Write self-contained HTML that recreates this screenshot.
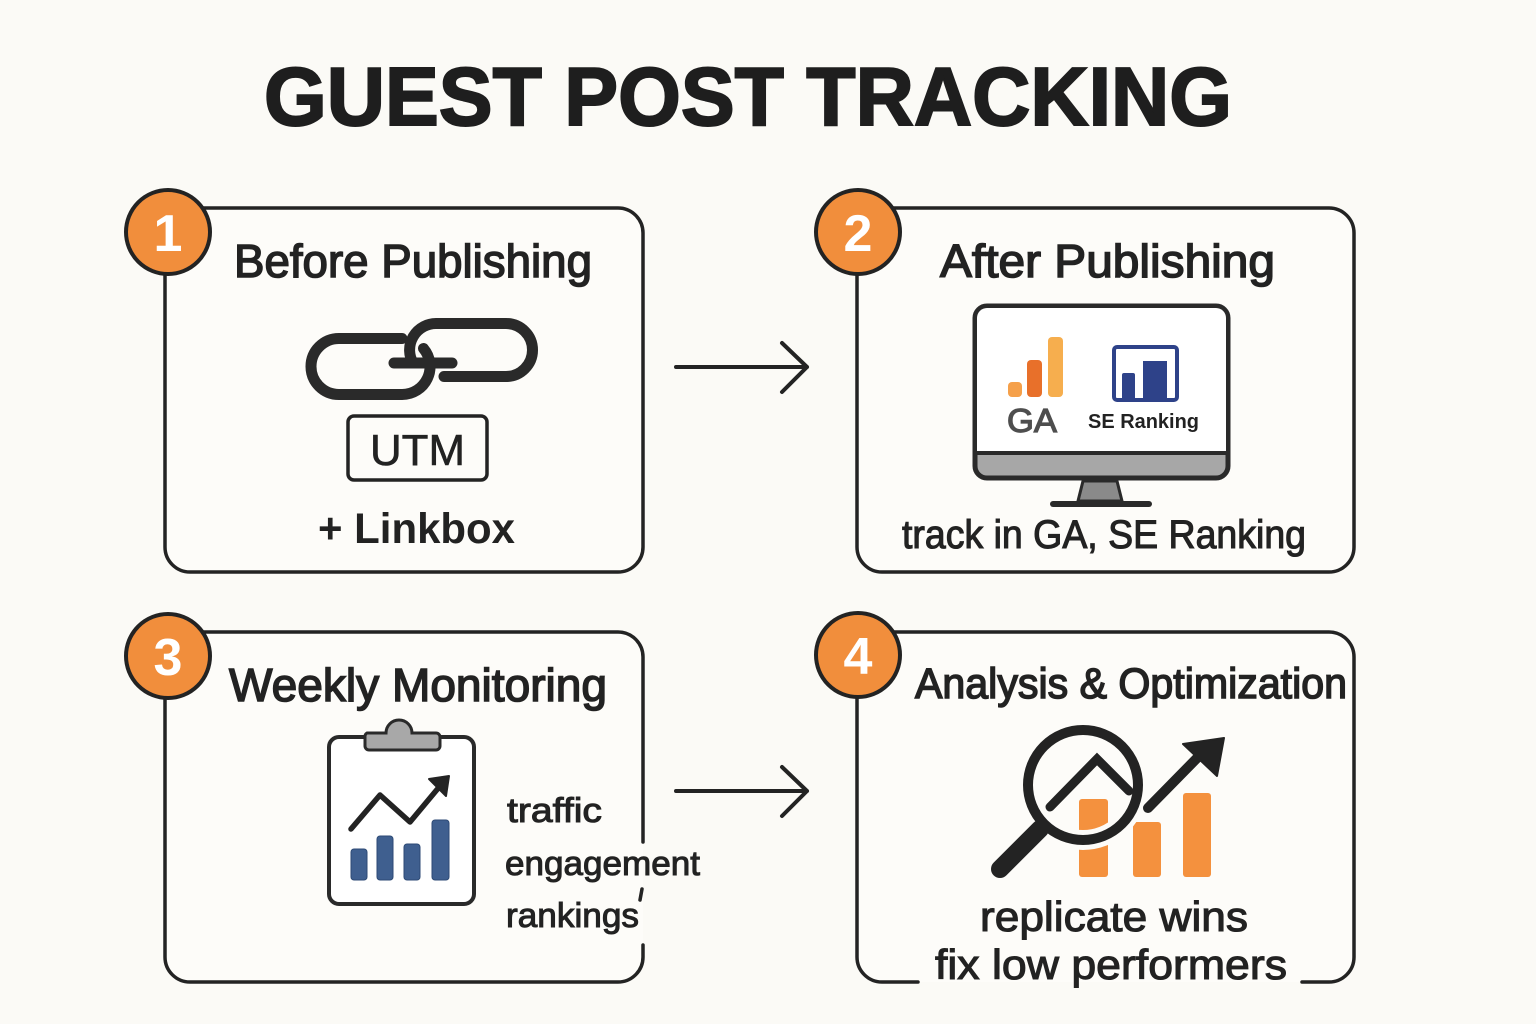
<!DOCTYPE html>
<html><head><meta charset="utf-8"><style>
html,body{margin:0;padding:0;background:#FBFAF6;}
svg{display:block;}
text{font-family:"Liberation Sans",sans-serif;}
</style></head><body>
<svg width="1536" height="1024" viewBox="0 0 1536 1024" xmlns="http://www.w3.org/2000/svg">
<rect width="1536" height="1024" fill="#FBFAF6"/>

<!-- Title -->
<text x="264" y="125" font-size="83" font-weight="bold" fill="#1e1e1e" stroke="#1e1e1e" stroke-width="2" textLength="968" lengthAdjust="spacingAndGlyphs">GUEST POST TRACKING</text>

<!-- Boxes -->
<g fill="#FDFCF9" stroke="#232323" stroke-width="3.5" stroke-linecap="round">
  <rect x="165" y="208" width="478" height="364" rx="25"/>
  <rect x="857" y="208" width="497" height="364" rx="25"/>
  <path d="M643 842 L643 657 A25 25 0 0 0 618 632 L190 632 A25 25 0 0 0 165 657 L165 957 A25 25 0 0 0 190 982 L618 982 A25 25 0 0 0 643 957 L643 945"/>
  <path d="M642 889 L640 900" fill="none"/>
  <path d="M918 982 L882 982 A25 25 0 0 1 857 957 L857 657 A25 25 0 0 1 882 632 L1329 632 A25 25 0 0 1 1354 657 L1354 957 A25 25 0 0 1 1329 982 L1302 982"/>
</g>

<!-- Arrows -->
<g fill="none" stroke="#232323" stroke-width="4" stroke-linecap="round" stroke-linejoin="round">
  <path d="M676 367 L807 367 M782 343 L807 367 L782 392"/>
  <path d="M676 791 L807 791 M782 767 L807 791 L782 816"/>
</g>

<!-- Number circles -->
<g fill="#F18E3C" stroke="#232323" stroke-width="4">
  <circle cx="168" cy="232" r="42"/>
  <circle cx="858" cy="232" r="42"/>
  <circle cx="168" cy="656" r="42"/>
  <circle cx="858" cy="655" r="42"/>
</g>
<g fill="#ffffff" font-size="52" font-weight="bold" text-anchor="middle">
  <text x="168" y="251">1</text>
  <text x="858" y="251">2</text>
  <text x="168" y="675">3</text>
  <text x="858" y="674">4</text>
</g>

<!-- Headings -->
<g fill="#222" stroke="#222" stroke-width="1.5" font-size="46">
  <text x="234" y="277" textLength="358" lengthAdjust="spacingAndGlyphs">Before Publishing</text>
  <text x="940" y="277" textLength="335" lengthAdjust="spacingAndGlyphs">After Publishing</text>
  <text x="229" y="701" textLength="378" lengthAdjust="spacingAndGlyphs">Weekly Monitoring</text>
  <text x="915" y="698" font-size="43" textLength="432" lengthAdjust="spacingAndGlyphs">Analysis &amp; Optimization</text>
</g>

<!-- Box 1 content: chain -->
<g fill="none" stroke="#2a2a2a" stroke-width="11" stroke-linecap="round">
  <path d="M402 338.5 L339 338.5 A28 28 0 0 0 339 394.5 L402 394.5 A28 28 0 0 0 423.5 348.5"/>
  <path d="M444 376.5 L506 376.5 A26.5 26.5 0 0 0 506 323.5 L436 323.5 A26.5 26.5 0 0 0 413 363"/>
  <path d="M394 363 L452 363"/>
</g>
<rect x="348" y="416" width="139" height="64" rx="6" fill="none" stroke="#232323" stroke-width="3.5"/>
<text x="370" y="465" font-size="44" fill="#222" stroke="#222" stroke-width="0.6" textLength="95" lengthAdjust="spacingAndGlyphs">UTM</text>
<text x="318" y="543" font-size="43" font-weight="bold" fill="#222" textLength="197" lengthAdjust="spacingAndGlyphs">+ Linkbox</text>

<!-- Box 2 content: monitor -->
<rect x="975" y="306" width="253" height="172" rx="12" fill="#A7A7A7" stroke="#2a2a2a" stroke-width="5"/>
<path d="M977 452 L977 318 A10 10 0 0 1 987 308 L1216 308 A10 10 0 0 1 1226 318 L1226 452 Z" fill="#ffffff"/>
<line x1="976" y1="453" x2="1227" y2="453" stroke="#2a2a2a" stroke-width="4"/>
<polygon points="1083,481 1117,481 1122,501 1078,501" fill="#8A8A8A" stroke="#2a2a2a" stroke-width="3"/>
<line x1="1053" y1="504" x2="1149" y2="504" stroke="#2a2a2a" stroke-width="6" stroke-linecap="round"/>
<!-- GA logo -->
<rect x="1008" y="382" width="14" height="15" rx="4" fill="#F5A04A"/>
<rect x="1027" y="360" width="15" height="37" rx="4" fill="#E8702A"/>
<rect x="1048" y="337" width="15" height="60" rx="4" fill="#F6AE4E"/>
<text x="1007" y="432" font-size="33" fill="#4e4e4e" stroke="#4e4e4e" stroke-width="1.2" textLength="50" lengthAdjust="spacingAndGlyphs">GA</text>
<!-- SE Ranking logo -->
<rect x="1114" y="347" width="63" height="53" rx="3" fill="#ffffff" stroke="#2E4289" stroke-width="4"/>
<rect x="1122" y="373" width="13" height="28" rx="2" fill="#2E4289"/>
<rect x="1143" y="361" width="24" height="40" fill="#2E4289"/>
<text x="1088" y="428" font-size="20" font-weight="bold" fill="#222" textLength="111" lengthAdjust="spacingAndGlyphs">SE Ranking</text>
<text x="902" y="548" font-size="40" fill="#222" stroke="#222" stroke-width="1.1" textLength="404" lengthAdjust="spacingAndGlyphs">track in GA, SE Ranking</text>

<!-- Box 3 content: clipboard -->
<rect x="329" y="737" width="145" height="167" rx="10" fill="#ffffff" stroke="#2a2a2a" stroke-width="4"/>
<path d="M367 733 L386 733 A13 13 0 0 1 412 733 L436 733 A4 4 0 0 1 440 737 L440 746 A4 4 0 0 1 436 750 L369 750 A4 4 0 0 1 365 746 L365 737 A4 4 0 0 1 367 733 Z" fill="#A8A8A8" stroke="#2a2a2a" stroke-width="3"/>
<g fill="#3F5F8F" stroke="#2d4a75" stroke-width="1">
  <rect x="351" y="849" width="16" height="31" rx="3"/>
  <rect x="377" y="836" width="16" height="44" rx="3"/>
  <rect x="404" y="844" width="16" height="36" rx="3"/>
  <rect x="432" y="820" width="17" height="60" rx="3"/>
</g>
<polyline points="351,829 380,795 410,822 440,786" fill="none" stroke="#232323" stroke-width="5.5" stroke-linecap="round" stroke-linejoin="round"/>
<polygon points="449,776 429,779 446,796" fill="#232323" stroke="#232323" stroke-width="2" stroke-linejoin="round"/>
<g fill="#222" stroke="#222" stroke-width="1" font-size="34">
  <text x="507" y="822" textLength="95" lengthAdjust="spacingAndGlyphs">traffic</text>
  <text x="505" y="875" textLength="195" lengthAdjust="spacingAndGlyphs">engagement</text>
  <text x="506" y="927" textLength="133" lengthAdjust="spacingAndGlyphs">rankings</text>
</g>

<!-- Box 4 content: magnifier + bars -->
<g fill="#F4913E">
  <rect x="1079" y="799" width="29" height="78" rx="3"/>
  <rect x="1133" y="822" width="28" height="55" rx="3"/>
  <rect x="1183" y="793" width="28" height="84" rx="3"/>
</g>
<circle cx="1083" cy="785" r="55" fill="none" stroke="#FDFCF9" stroke-width="20"/>
<line x1="1040" y1="829" x2="1000" y2="869" stroke="#232323" stroke-width="18" stroke-linecap="round"/>
<circle cx="1083" cy="785" r="55" fill="none" stroke="#232323" stroke-width="10"/>
<polyline points="1050,807 1097,759 1129,791" fill="none" stroke="#232323" stroke-width="9" stroke-linecap="round" stroke-linejoin="miter"/>
<line x1="1148" y1="808" x2="1203" y2="752" stroke="#232323" stroke-width="10" stroke-linecap="round"/>
<polygon points="1224,738 1183,744 1217,776" fill="#232323" stroke="#232323" stroke-width="2" stroke-linejoin="round"/>
<g fill="#222" stroke="#222" stroke-width="1.1" font-size="42">
  <text x="980" y="931" textLength="268" lengthAdjust="spacingAndGlyphs">replicate wins</text>
  <text x="935" y="979" textLength="352" lengthAdjust="spacingAndGlyphs">fix low performers</text>
</g>
</svg>
</body></html>
